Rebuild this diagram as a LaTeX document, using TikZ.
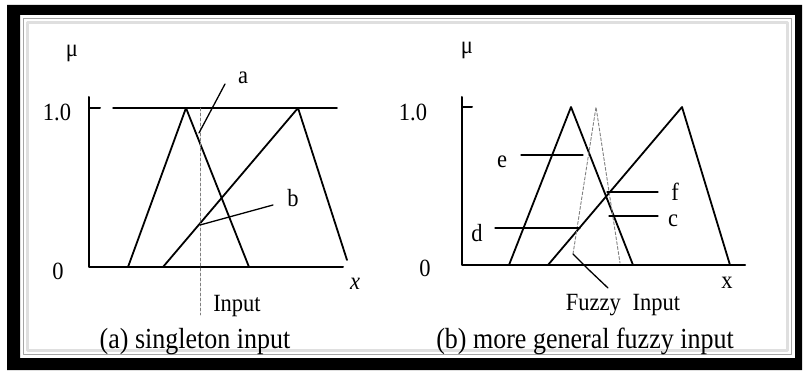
\documentclass[tikz,border=0pt]{standalone}
\usepackage{fontspec}
\setmainfont{Liberation Serif}
\begin{document}
\begin{tikzpicture}[x=1pt,y=-1pt,line cap=round,line join=round,
  axis/.style={line width=2pt},
  memb/.style={line width=1.8pt},
  leader/.style={line width=1.3pt},
  guide/.style={line width=0.9pt,gray,densely dashed},
  lbl/.style={inner sep=0pt,yscale=1.1,font=\fontsize{22.5}{22.5}\selectfont},
  capt/.style={inner sep=0pt,yscale=1.12,font=\fontsize{26}{26}\selectfont}]
  \useasboundingbox (0,0) rectangle (803,374);
  % frame
  \fill[white] (0,0) rectangle (803,374);
  \fill[black,even odd rule] (7,5) rectangle (802,370) (20,15) rectangle (795,358);
  \draw[gray!70,line width=1.5pt] (23.5,18.5) rectangle (791.5,354.5);
  \draw[gray!25,line width=2.5pt] (27.5,22.5) rectangle (787.5,350.5);
  % (a) singleton input
  \draw[axis] (89,97) -- (89,267) -- (343,267);
  \draw[axis] (89,108) -- (100,108);
  \draw[line width=1.5pt] (113,108) -- (337,108);
  \draw[memb] (128,267) -- (186,108) -- (249,267);
  \draw[memb] (163,267) -- (298,108) -- (347,260);
  \draw[guide] (200,108) -- (200,315);
  \node[lbl] (mua) at (72,53) {μ};
  \node[lbl] (onea) at (57,112) {1.0};
  \node[lbl] (zeroa) at (58,271) {0};
  \node[lbl] (xa) at (355,284) {\itshape x};
  \node[lbl] (ina) at (237,306) {Input};
  \node[lbl] (la) at (243,78) {a};
  \node[lbl] (lb) at (293,198) {b};
  \coordinate (pa) at (199,133);
  \coordinate (qa) at (225,84);
  \coordinate (pb) at (200,225);
  \coordinate (qb) at (273,205);
  \draw[leader] (pa) -- (qa);
  \draw[leader] (pb) -- (qb);
  \node[capt] (capa) at (195,342) {(a) singleton input};
  % (b) more general fuzzy input
  \draw[axis] (462,97) -- (462,265) -- (745,265);
  \draw[axis] (462,107) -- (472,107);
  \draw[memb] (509,265) -- (571,107) -- (633,265);
  \draw[memb] (548,265) -- (682,107) -- (730,265);
  \draw[guide] (573,254) -- (596,107) -- (620,263);
  \node[lbl] (mub) at (467,50) {μ};
  \node[lbl] (oneb) at (413,112) {1.0};
  \node[lbl] (zerob) at (425,268) {0};
  \node[lbl] (xb) at (727,283) {x};
  \node[lbl] (inb) at (623,305) {Fuzzy\hspace{12pt}Input};
  \node[lbl] (le) at (502,162) {e};
  \node[lbl] (ld) at (477,233) {d};
  \node[lbl] (lf) at (675,192) {f};
  \node[lbl] (lc) at (673,221) {c};
  \coordinate (pe) at (583,155);
  \coordinate (qe) at (521,155);
  \coordinate (pd) at (580,228);
  \coordinate (qd) at (495,228);
  \coordinate (pf) at (607,192);
  \coordinate (qf) at (658,192);
  \coordinate (pc) at (609,216);
  \coordinate (qc) at (658,216);
  \coordinate (pz) at (573,254);
  \coordinate (qz) at (608,288);
  \draw[leader] (pe) -- (qe);
  \draw[leader] (pd) -- (qd);
  \draw[leader] (pf) -- (qf);
  \draw[leader] (pc) -- (qc);
  \draw[leader] (pz) -- (588,269) -- (qz);
  \node[capt] (capb) at (585,341) {(b) more general fuzzy input};
\end{tikzpicture}
\end{document}
